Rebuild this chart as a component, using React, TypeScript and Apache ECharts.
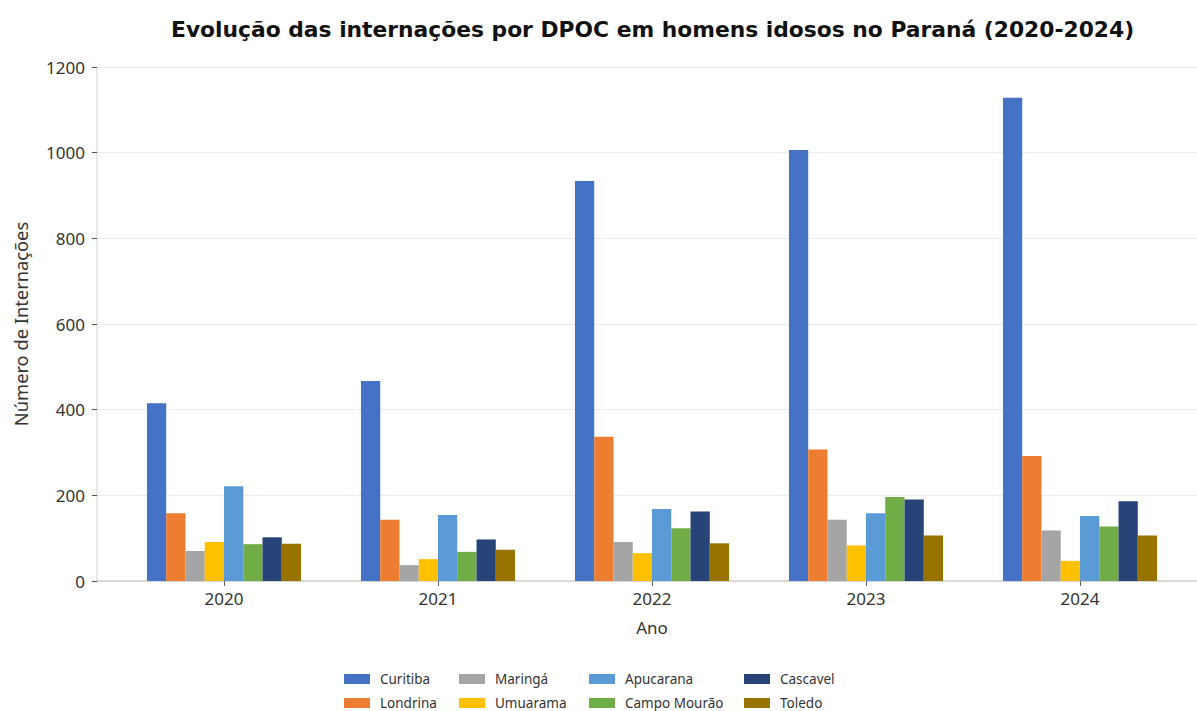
import React, { useEffect, useRef } from "react";
import * as echarts from "echarts";

const years = ["2020", "2021", "2022", "2023", "2024"];
const cities = ["Curitiba", "Londrina", "Maringá", "Umuarama", "Apucarana", "Campo Mourão", "Cascavel", "Toledo"];
const curitiba = [415, 467, 934, 1006, 1128];
const londrina = [158, 143, 337, 307, 292];
const maringa = [70, 37, 91, 143, 118];
const umuarama = [91, 51, 65, 83, 47];
const apucarana = [221, 154, 168, 158, 152];
const campoMourao = [86, 68, 123, 196, 127];
const cascavel = [102, 97, 162, 190, 186];
const toledo = [87, 73, 88, 106, 106];
const yTicks = [0, 200, 400, 600, 800, 1000, 1200];
const colors = ["#4472C4", "#ED7D31", "#A5A5A5", "#FFC000", "#5B9BD5", "#70AD47", "#264478", "#997300"];

const seriesValues = [curitiba, londrina, maringa, umuarama, apucarana, campoMourao, cascavel, toledo];

export default function App() {
  const ref = useRef<HTMLDivElement>(null);
  useEffect(() => {
    if (!ref.current) return;
    const chart = echarts.init(ref.current, null, { renderer: "svg" });
    const tickFont = { fontFamily: "Noto Sans", fontSize: 17, color: "#333" };
    const legendCols = [
      { left: 344, data: [cities[0], cities[1]] },
      { left: 459, data: [cities[2], cities[3]] },
      { left: 589, data: [cities[4], cities[5]] },
      { left: 744, data: [cities[6], cities[7]] },
    ];
    chart.setOption({
      animation: false,
      backgroundColor: "#ffffff",
      color: colors,
      title: {
        text: "Evolução das internações por DPOC em homens idosos no Paraná (2020-2024)",
        left: 166,
        top: 13,
        textStyle: { fontFamily: "DejaVu Sans", fontWeight: "bold", fontSize: 21.8, color: "#111" },
      },
      legend: legendCols.map((c) => ({
        orient: "vertical",
        left: c.left,
        top: 672,
        padding: 0,
        data: c.data,
        itemWidth: 26,
        itemHeight: 10,
        itemGap: 10,
        icon: "rect",
        textStyle: { fontFamily: "Noto Sans", fontSize: 13.5, color: "#333", lineHeight: 13, padding: [0, 0, 0, 5] },
      })),
      grid: [
        { left: 97, top: 67, width: 1110, bottom: 130 },
        { left: 117, top: 67, width: 1070, bottom: 130 },
      ],
      xAxis: [
        {
          gridIndex: 0,
          type: "value",
          min: 0,
          max: 1,
          axisLine: { show: true, lineStyle: { color: "#cfcfcf", width: 1.5 } },
          axisTick: { show: false },
          axisLabel: { show: false },
          splitLine: { show: false },
        },
        {
          gridIndex: 1,
          type: "category",
          data: years,
          axisLine: { show: false },
          axisTick: { show: true, alignWithLabel: true, length: 5, lineStyle: { color: "#666" } },
          axisLabel: { ...tickFont, margin: 9 },
          name: "Ano",
          nameLocation: "middle",
          nameGap: 38,
          nameTextStyle: { fontFamily: "Noto Sans", fontSize: 17, color: "#333" },
        },
      ],
      yAxis: [
        {
          gridIndex: 0,
          type: "value",
          min: yTicks[0],
          max: yTicks[yTicks.length - 1],
          interval: 200,
          axisLine: { show: true, lineStyle: { color: "#e0e0e0", width: 1.5 } },
          axisTick: { show: true, length: 5, lineStyle: { color: "#555" } },
          axisLabel: { ...tickFont, margin: 12, formatter: (v: number) => String(v) },
          splitLine: { show: true, lineStyle: { color: "#ececec", width: 1.2 } },
          name: "Número de Internações",
          nameLocation: "middle",
          nameGap: 68,
          nameTextStyle: { fontFamily: "Noto Sans", fontSize: 18.3, color: "#333" },
        },
        {
          gridIndex: 1,
          type: "value",
          min: yTicks[0],
          max: yTicks[yTicks.length - 1],
          interval: 200,
          show: false,
          splitLine: { show: false },
        },
      ],
      series: cities.map((name, i) => ({
        name,
        type: "bar",
        xAxisIndex: 1,
        yAxisIndex: 1,
        data: seriesValues[i],
        barGap: "0%",
        barCategoryGap: "28%",
        itemStyle: { color: colors[i] },
      })),
    });
    return () => chart.dispose();
  }, []);
  return <div ref={ref} style={{ position: "fixed", left: 0, top: 0, width: 1197, height: 711 }} />;
}
